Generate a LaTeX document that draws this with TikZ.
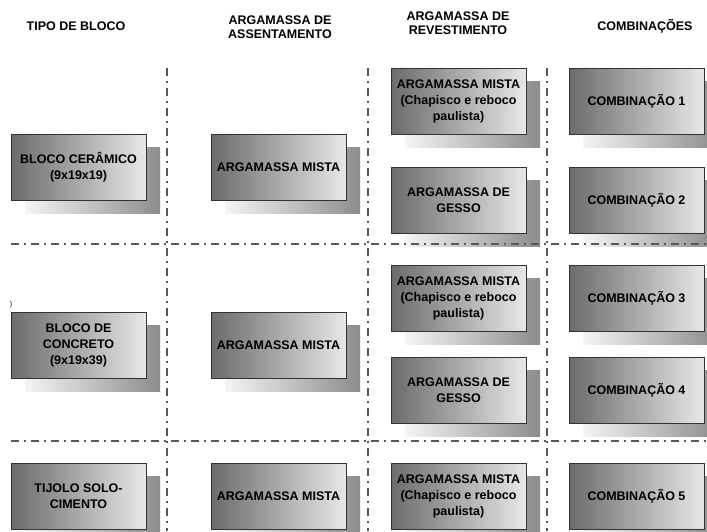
\documentclass[tikz,border=0pt]{standalone}
\usepackage{fontspec}
\setmainfont{Liberation Sans}
\begin{document}
\begin{tikzpicture}[x=1pt,y=-1pt,
  blk/.style={draw=black!80, line width=0.8pt, left color=black!58, right color=black!9,
    minimum width=135pt, minimum height=66pt, inner sep=1pt, align=center,
    font=\fontsize{12.5}{16}\selectfont\bfseries,
    preaction={draw=none, left color=black!4, right color=black!45,
      transform canvas={xshift=14pt,yshift=-13pt}}},
  hdr/.style={align=center, font=\fontsize{12.5}{14.5}\selectfont\bfseries},
  sep/.style={draw=black!65, line width=1.3pt, dash pattern=on 8pt off 5pt on 1.5pt off 5.5pt}]
\useasboundingbox (0,0) rectangle (707,531);
\clip (0,0) rectangle (707,531);
% headers
\node[hdr] (h1) at (76,26) {TIPO DE BLOCO};
\node[hdr] (h2) at (280,27) {ARGAMASSA DE\\ASSENTAMENTO};
\node[hdr] (h3) at (458,23) {ARGAMASSA DE\\REVESTIMENTO};
\node[hdr] (h4) at (645,26) {COMBINAÇÕES};
% separators
\coordinate (v1a) at (167,68); \coordinate (v1b) at (167,531);
\coordinate (v2a) at (368,68); \coordinate (v2b) at (368,531);
\coordinate (v3a) at (547,68); \coordinate (v3b) at (547,531);
\coordinate (h1a) at (11,244); \coordinate (h1b) at (707,244);
\coordinate (h2a) at (11,441); \coordinate (h2b) at (707,441);
% row 1
\node[blk] (b1) at (78.5,167) {BLOCO CERÂMICO\\(9x19x19)};
\node[blk] (a1) at (278.5,167) {ARGAMASSA MISTA};
\node[blk] (r1) at (458.5,101) {ARGAMASSA MISTA\\(Chapisco e reboco\\paulista)};
\node[blk] (r2) at (458.5,200) {ARGAMASSA DE\\GESSO};
\node[blk] (c1) at (636.5,101) {COMBINAÇÃO 1};
\node[blk] (c2) at (636.5,200) {COMBINAÇÃO 2};
% row 2
\node[blk] (b2) at (78.5,345) {BLOCO DE\\CONCRETO\\(9x19x39)};
\node[blk] (a2) at (278.5,345) {ARGAMASSA MISTA};
\node[blk] (r3) at (458.5,298) {ARGAMASSA MISTA\\(Chapisco e reboco\\paulista)};
\node[blk] (r4) at (458.5,390) {ARGAMASSA DE\\GESSO};
\node[blk] (c3) at (636.5,298) {COMBINAÇÃO 3};
\node[blk] (c4) at (636.5,390) {COMBINAÇÃO 4};
% row 3
\node[blk] (b3) at (78.5,496) {TIJOLO SOLO-\\CIMENTO};
\node[blk] (a3) at (278.5,496) {ARGAMASSA MISTA};
\node[blk] (r5) at (458.5,496) {ARGAMASSA MISTA\\(Chapisco e reboco\\paulista)};
\node[blk] (c5) at (636.5,496) {COMBINAÇÃO 5};
% separator lines
\draw[sep] (v1a) -- (v1b);
\draw[sep] (v2a) -- (v2b);
\draw[sep] (v3a) -- (v3b);
\draw[sep] (h1a) -- (h1b);
\draw[sep] (h2a) -- (h2b);
% stray mark
\node[font=\fontsize{7}{8}\selectfont, inner sep=0pt] (stray) at (11,305) {)};
\end{tikzpicture}
\end{document}
